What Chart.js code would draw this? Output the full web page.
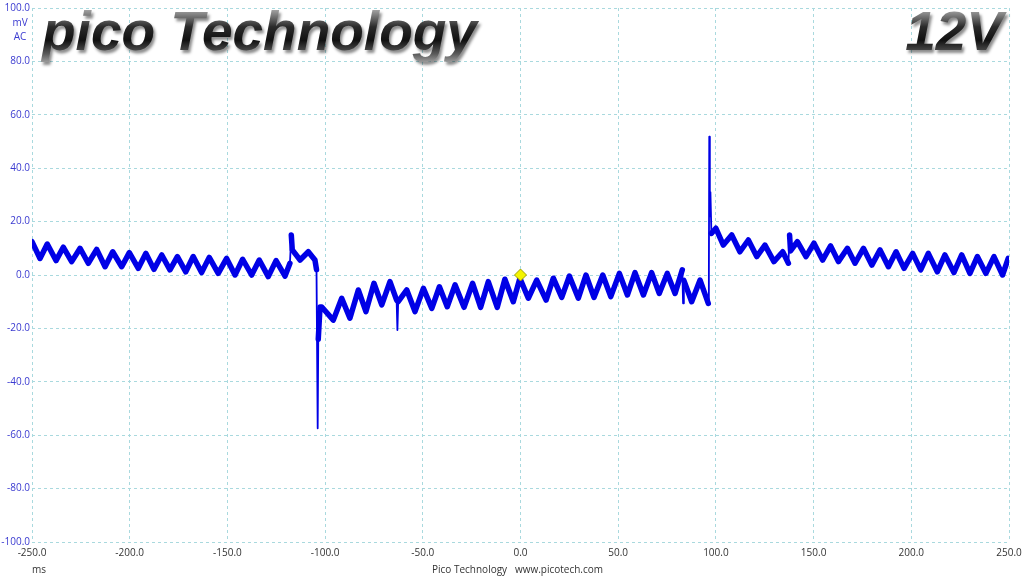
<!DOCTYPE html>
<html>
<head>
<meta charset="utf-8">
<script src="https://cdn.jsdelivr.net/npm/chart.js@4"></script>
<style>
  html, body { margin: 0; padding: 0; background: #fff; }
  canvas { display: block; }
</style>
</head>
<body>
<canvas id="scope" width="1024" height="576"></canvas>
<script>
const traceMs = [
  -250, -245.9, -242.2, -237.7, -234.0, -229.7, -225.4, -221.2, -216.9, -212.6,
  -208.7, -204.1, -200.2, -195.6, -191.7, -187.6, -183.6, -179.4, -175.6, -171.3,
  -167.5, -163.2, -159.3, -154.7, -150.4, -146.1, -142.2, -137.6, -133.7, -129.1,
  -125.1, -120.5, -118.0, -117.3, -116.8, -112.8, -108.6, -105.2, -104.4, -103.8,
  -103.5, -102.6, -101.7, -95.8, -91.5, -87.3, -83.0, -79.1, -75.0, -71.0,
  -66.8, -63.4, -63.0, -62.6, -58.2, -54.0, -49.7, -45.4, -41.5, -37.5,
  -33.5, -28.9, -24.5, -20.4, -16.5, -11.9, -8.0, -3.7, -0.3, 4.0,
  8.3, 13.1, 16.8, 21.1, 25.0, 29.6, 33.5, 37.6, 42.1, 46.2,
  50.6, 54.7, 58.6, 62.9, 67.1, 71.0, 75.1, 79.1, 82.8, 83.2,
  83.6, 87.6, 91.9, 96.1, 96.4, 96.6, 96.9, 97.2, 97.7, 100.0,
  103.8, 108.1, 112.3, 116.6, 120.9, 125.1, 129.7, 134.2, 137.1, 137.7,
  138.2, 141.7, 146.1, 150.2, 154.6, 158.7, 162.7, 167.3, 171.2, 175.5,
  179.8, 184.0, 188.3, 192.2, 196.3, 200.7, 204.8, 208.7, 213.3, 217.2,
  221.8, 225.8, 230.0, 233.8, 238.2, 242.3, 246.7, 249.6
];
const traceMv = [
  12.5, 6.2, 11.6, 5.4, 10.4, 5.0, 10.0, 4.4, 9.6, 3.1,
  8.7, 3.1, 8.4, 2.5, 8.1, 2.1, 7.5, 1.9, 6.9, 1.2,
  6.9, 0.9, 6.6, 0.6, 6.2, 0.0, 5.9, 0.0, 5.6, -0.6,
  5.4, -0.4, 4.4, 15.0, 9.4, 5.6, 8.7, 5.6, 2.0, -57.4,
  -24.0, -12.0, -12.0, -16.9, -8.7, -16.2, -5.6, -13.7, -3.1, -11.2,
  -2.5, -9.4, -20.6, -10.0, -5.6, -13.7, -5.0, -12.5, -4.4, -11.9,
  -3.7, -12.1, -3.1, -12.1, -2.5, -12.1, -1.6, -10.0, -1.2, -8.7,
  -1.9, -9.4, -1.2, -8.4, -0.4, -8.7, 0.0, -8.4, 0.0, -8.1,
  0.6, -7.5, 0.9, -7.5, 0.9, -6.9, 0.6, -6.9, 1.9, -10.6,
  -2.0, -10.0, -1.9, -10.6, 0.0, 51.8, 22.0, 31.0, 15.6, 17.5,
  11.2, 15.0, 8.7, 13.1, 6.9, 11.2, 5.0, 8.7, 4.4, 15.0,
  9.0, 12.5, 6.9, 11.9, 5.6, 10.9, 5.0, 10.0, 4.4, 10.0,
  3.7, 9.4, 3.1, 8.7, 2.5, 8.1, 1.9, 8.1, 1.2, 7.5,
  0.9, 7.5, 0.6, 6.9, 0.6, 6.9, 0.0, 6.2
];

// trigger marker
const triggerMs = [0];
const triggerMv = [0];

const xTicks = [-250, -200, -150, -100, -50, 0, 50, 100, 150, 200, 250];
const yTicks = [-100, -80, -60, -40, -20, 0, 20, 40, 60, 80, 100];

const tracePoints = traceMs.map((t, i) => ({ x: t, y: traceMv[i] }));
const triggerPoints = triggerMs.map((t, i) => ({ x: t, y: triggerMv[i] }));

const gridColor = '#a9d9de';
const tickFont = { family: '"Open Sans", "Noto Sans", sans-serif', size: 10 };

// logo text, units and footer
const scopeText = {
  id: 'scopeText',
  afterDraw(chart) {
    const c = chart.ctx;
    c.save();

    function metal(text, x, align) {
      c.font = 'italic bold 55px "Liberation Sans", Arial, sans-serif';
      c.textAlign = align;
      c.textBaseline = 'alphabetic';
      const g = c.createLinearGradient(0, 8, 0, 62);
      g.addColorStop(0, '#b0b0b0');
      g.addColorStop(0.35, '#2a2a2a');
      g.addColorStop(0.6, '#111');
      g.addColorStop(0.85, '#5a5a5a');
      g.addColorStop(1, '#9a9a9a');
      c.shadowColor = 'rgba(0,0,0,0.45)';
      c.shadowOffsetX = 2;
      c.shadowOffsetY = 3;
      c.shadowBlur = 3;
      c.fillStyle = g;
      c.fillText(text, x, 50);
      c.shadowColor = 'transparent';
    }
    metal('pico Technology', 42, 'left');
    metal('12V', 1003, 'right');

    c.font = '10px "Open Sans", "Noto Sans", sans-serif';
    c.textBaseline = 'middle';
    c.textAlign = 'center';
    c.fillStyle = '#3a3ad0';
    c.fillText('mV', 20, 23);
    c.fillText('AC', 20, 37);

    c.fillStyle = '#333';
    c.fillText('ms', 39, 570);
    c.textAlign = 'left';
    c.fillText('Pico Technology   www.picotech.com', 432, 570);
    c.restore();
  }
};

new Chart(document.getElementById('scope'), {
  type: 'line',
  data: {
    datasets: [
      {
        data: tracePoints,
        order: 1,
        borderColor: '#0000e6',
        borderWidth: 5.5,
        borderJoinStyle: 'round',
        borderCapStyle: 'round',
        pointRadius: 0,
        tension: 0,
        segment: {
          // steep glitches are thin in the capture
          borderWidth: ctx => {
            const dx = Math.abs(ctx.p1.parsed.x - ctx.p0.parsed.x);
            const dy = Math.abs(ctx.p1.parsed.y - ctx.p0.parsed.y);
            return dy / dx > 15 ? 1.8 : undefined;
          }
        }
      },
      {
        data: triggerPoints,
        order: 0,
        showLine: false,
        pointStyle: 'rectRot',
        pointRadius: 6,
        backgroundColor: '#f4f400',
        borderColor: '#a0a000',
        borderWidth: 1
      }
    ]
  },
  options: {
    responsive: false,
    animation: false,
    layout: { padding: { top: 8, right: 15, left: 0, bottom: 0 } },
    plugins: { legend: { display: false }, tooltip: { enabled: false } },
    scales: {
      x: {
        type: 'linear',
        min: xTicks[0],
        max: xTicks[xTicks.length - 1],
        afterBuildTicks: s => { s.ticks = xTicks.map(v => ({ value: v })); },
        afterFit: s => { s.height = 34; s.paddingRight = 0; },
        grid: { color: gridColor, lineWidth: 1, drawTicks: false },
        border: { display: false, dash: [3, 3] },
        ticks: {
          padding: 5,
          color: '#333',
          font: tickFont,
          maxRotation: 0,
          callback: v => v.toFixed(1)
        }
      },
      y: {
        min: yTicks[0],
        max: yTicks[yTicks.length - 1],
        afterBuildTicks: s => { s.ticks = yTicks.map(v => ({ value: v })); },
        afterFit: s => { s.width = 32; },
        grid: { color: gridColor, lineWidth: 1, drawTicks: false },
        border: { display: false, dash: [3, 3] },
        ticks: {
          padding: 2,
          color: '#3a3ad0',
          font: tickFont,
          callback: v => v.toFixed(1)
        }
      }
    }
  },
  plugins: [scopeText]
});
</script>
</body>
</html>
